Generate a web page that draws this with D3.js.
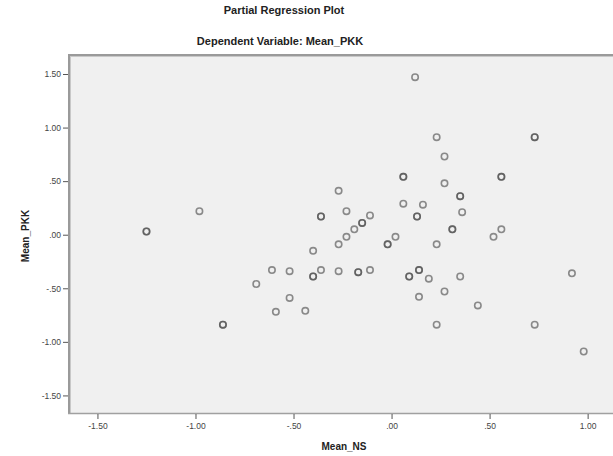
<!DOCTYPE html>
<html>
<head>
<meta charset="utf-8">
<script src="https://cdn.jsdelivr.net/npm/d3@7"></script>
<style>
  html, body { margin: 0; padding: 0; background: #ffffff; }
  svg { display: block; }
  text { font-family: "Liberation Sans", Arial, sans-serif; }
</style>
</head>
<body>
<svg id="chart" width="613" height="456"></svg>
<script>
// ---- Data ----
const title = "Partial Regression Plot";
const subtitle = "Dependent Variable: Mean_PKK";
const xLabel = "Mean_NS";
const yLabel = "Mean_PKK";
const xTicks = [-1.5, -1.0, -0.5, 0.0, 0.5, 1.0];
const yTicks = [-1.5, -1.0, -0.5, 0.0, 0.5, 1.0, 1.5];
// Observations (overlapping cases appear as repeated entries)
const meanNS = [
  -1.25, -1.25, -0.98, -0.86, -0.86, -0.69, -0.61, -0.59, -0.52, -0.52, -0.44,
  -0.40, -0.40, -0.40, -0.36, -0.36, -0.36, -0.27, -0.27, -0.27, -0.23, -0.23,
  -0.19, -0.17, -0.17, -0.15, -0.15, -0.11, -0.11, -0.02, -0.02, 0.02, 0.06, 0.06,
  0.06, 0.09, 0.09, 0.12, 0.13, 0.13, 0.14, 0.14, 0.14, 0.16, 0.19, 0.23, 0.23,
  0.23, 0.27, 0.27, 0.27, 0.31, 0.31, 0.35, 0.35, 0.35, 0.36, 0.44, 0.52, 0.56,
  0.56, 0.56, 0.73, 0.73, 0.73, 0.92, 0.98
];
const meanPKK = [
  0.03, 0.03, 0.22, -0.84, -0.84, -0.46, -0.33, -0.72, -0.34, -0.59, -0.71,
  -0.15, -0.39, -0.39, 0.17, 0.17, -0.33, 0.41, -0.09, -0.34, 0.22, -0.02,
  0.05, -0.35, -0.35, 0.11, 0.11, 0.18, -0.33, -0.09, -0.09, -0.02, 0.54, 0.54,
  0.29, -0.39, -0.39, 1.47, 0.17, 0.17, -0.33, -0.33, -0.58, 0.28, -0.41, 0.91, -0.09,
  -0.84, 0.73, 0.48, -0.53, 0.05, 0.05, 0.36, 0.36, -0.39, 0.21, -0.66, -0.02, 0.54,
  0.54, 0.05, 0.91, 0.91, -0.84, -0.36, -1.09
];

// ---- Layout ----
const svg = d3.select("#chart");
const plot = { left: 70, top: 56, right: 619, bottom: 413 };

const x = d3.scaleLinear().domain([-1.64, 1.16]).range([plot.left, plot.right]);
const y = d3.scaleLinear().domain([-1.664, 1.668]).range([plot.bottom, plot.top]);

const fmt = v => {
  if (Math.abs(v) < 1e-9) return ".00";
  let s = d3.format(".2f")(Math.abs(v));
  if (s.startsWith("0")) s = s.slice(1);
  return (v < 0 ? "-" : "") + s;
};

// Plot background
svg.append("rect")
  .attr("x", plot.left).attr("y", plot.top)
  .attr("width", plot.right - plot.left).attr("height", plot.bottom - plot.top)
  .attr("fill", "#f0f0f0");

// Frame: heavier shaded top/left, thinner bottom
svg.append("line").attr("x1", plot.left - 1).attr("x2", 613).attr("y1", plot.top - 1).attr("y2", plot.top - 1)
  .attr("stroke", "#9a9a9a").attr("stroke-width", 2);
svg.append("line").attr("x1", plot.left - 1).attr("x2", 613).attr("y1", plot.top + 0.5).attr("y2", plot.top + 0.5)
  .attr("stroke", "#c8c8c8").attr("stroke-width", 1);
svg.append("line").attr("x1", plot.left - 1).attr("x2", plot.left - 1).attr("y1", plot.top - 2).attr("y2", plot.bottom + 1)
  .attr("stroke", "#9a9a9a").attr("stroke-width", 2);
svg.append("line").attr("x1", plot.left + 0.5).attr("x2", plot.left + 0.5).attr("y1", plot.top).attr("y2", plot.bottom)
  .attr("stroke", "#c8c8c8").attr("stroke-width", 1);
svg.append("line").attr("x1", plot.left - 2).attr("x2", 613).attr("y1", plot.bottom + 0.5).attr("y2", plot.bottom + 0.5)
  .attr("stroke", "#a0a0a0").attr("stroke-width", 1.6);

// Axes
const xAxis = d3.axisBottom(x).tickValues(xTicks).tickFormat(fmt).tickSize(5).tickPadding(4);
const yAxis = d3.axisLeft(y).tickValues(yTicks).tickFormat(fmt).tickSize(5).tickPadding(2);

const gx = svg.append("g").attr("transform", `translate(0,${plot.bottom + 1})`).call(xAxis);
const gy = svg.append("g").attr("transform", `translate(${plot.left - 2},0)`).call(yAxis);
[gx, gy].forEach(g => {
  g.select(".domain").remove();
  g.selectAll(".tick line").attr("stroke", "#555").attr("stroke-width", 1);
  g.selectAll(".tick text").attr("fill", "#444").style("font-size", "8.5px")
    .style("font-family", "'Liberation Sans', Arial, sans-serif");
});

// Points
svg.append("g").selectAll("circle")
  .data(meanNS.map((v, i) => [v, meanPKK[i]]))
  .join("circle")
  .attr("cx", d => x(d[0]))
  .attr("cy", d => y(d[1]))
  .attr("r", 3.2)
  .attr("fill", "none")
  .attr("stroke", "#4a4a4a")
  .attr("stroke-opacity", 0.62)
  .attr("stroke-width", 1.6);

// Titles
svg.append("text").attr("x", 284).attr("y", 14).attr("text-anchor", "middle")
  .style("font-size", "11px").style("font-weight", "bold").attr("fill", "#222").text(title);
svg.append("text").attr("x", 280).attr("y", 45).attr("text-anchor", "middle")
  .style("font-size", "11px").style("font-weight", "bold").attr("fill", "#222").text(subtitle);

// Axis titles
svg.append("text").attr("x", 344).attr("y", 450).attr("text-anchor", "middle")
  .style("font-size", "10px").style("font-weight", "bold").attr("fill", "#222").text(xLabel);
svg.append("text").attr("transform", "translate(29,236) rotate(-90)").attr("text-anchor", "middle")
  .style("font-size", "10px").style("font-weight", "bold").attr("fill", "#222").text(yLabel);
</script>
</body>
</html>
